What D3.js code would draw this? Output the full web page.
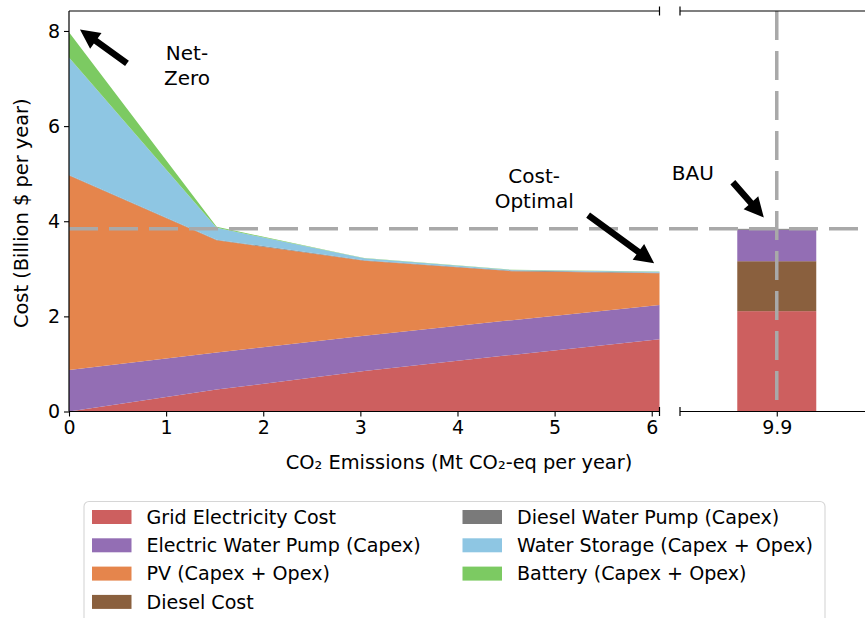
<!DOCTYPE html>
<html>
<head>
<meta charset="utf-8">
<script src="https://cdn.jsdelivr.net/npm/d3@7/dist/d3.min.js"></script>
<style>
  html, body { margin: 0; padding: 0; background: #fff; }
  svg { display: block; font-family: "DejaVu Sans", sans-serif; }
</style>
</head>
<body>
<svg id="chart" width="865" height="618"></svg>
<script>
// ---- Data ----
const emissions    = [0, 1.52, 3.04, 4.56, 6.08];          // Mt CO2-eq per year
const gridCost     = [0, 0.46, 0.85, 1.19, 1.52];
const elecPump     = [0.875, 0.78, 0.74, 0.73, 0.72];
const pvCost       = [4.085, 2.36, 1.58, 1.03, 0.665];
const dieselCost   = [0, 0, 0, 0, 0];
const dieselPump   = [0.012, 0.012, 0.012, 0.012, 0.012];
const waterStorage = [2.47, 0.25, 0.04, 0.015, 0.02];
const battery      = [0.53, 0.02, 0.003, 0.003, 0.005];

// Business-as-usual scenario (single bar)
const bauEmission  = 9.9;
const bauKeys      = ["grid", "diesel", "elecPump", "dieselPump"];
const bauValues    = [2.11, 1.05, 0.66, 0.02];

const xTicksLeft   = [0, 1, 2, 3, 4, 5, 6];
const yTicks       = [0, 2, 4, 6, 8];
const xTickRight   = ["9.9"];

const seriesKeys   = ["grid", "elecPump", "pv", "diesel", "dieselPump", "storage", "battery"];
const seriesNames  = ["Grid Electricity Cost", "Electric Water Pump (Capex)", "PV (Capex + Opex)",
                      "Diesel Cost", "Diesel Water Pump (Capex)", "Water Storage (Capex + Opex)",
                      "Battery (Capex + Opex)"];
const seriesColors = ["#cd5f5f", "#936eb4", "#e5854c", "#8a603e", "#7a7a7a", "#8ec6e3", "#7cca62"];

// ---- Setup ----
const svg = d3.select("#chart");
const color = d3.scaleOrdinal().domain(seriesKeys).range(seriesColors);

const plotTop = 11, plotBottom = 411.5;
const xL = d3.scaleLinear().domain([0, 6.08]).range([69, 659.5]);
const xR = d3.scaleLinear().domain([8.92, 10.9]).range([680, 875.5]);
const y  = d3.scaleLinear().domain([0, 8.42]).range([plotBottom, plotTop]);

// ---- Stacked areas ----
const rows = emissions.map((e, i) => ({
  x: e, grid: gridCost[i], elecPump: elecPump[i], pv: pvCost[i], diesel: dieselCost[i],
  dieselPump: dieselPump[i], storage: waterStorage[i], battery: battery[i]
}));
const stacked = d3.stack().keys(seriesKeys)(rows);
const area = d3.area()
  .x(d => xL(d.data.x))
  .y0(d => y(d[0]))
  .y1(d => y(d[1]));

svg.append("g").selectAll("path")
  .data(stacked)
  .join("path")
  .attr("d", area)
  .attr("fill", d => color(d.key));

// ---- BAU stacked bar ----
let acc = 0;
const bauSegs = bauKeys.map((k, i) => { const s = { key: k, y0: acc, y1: acc + bauValues[i] }; acc += bauValues[i]; return s; });
const bauTotal = acc;
const barWidth = 0.8;
svg.append("g").selectAll("rect")
  .data(bauSegs)
  .join("rect")
  .attr("x", xR(bauEmission - barWidth / 2))
  .attr("width", xR(bauEmission + barWidth / 2) - xR(bauEmission - barWidth / 2))
  .attr("y", d => y(d.y1))
  .attr("height", d => y(d.y0) - y(d.y1))
  .attr("fill", d => color(d.key));

// ---- Reference lines ----
svg.append("line")
  .attr("x1", xL(0)).attr("x2", 865)
  .attr("y1", y(bauTotal)).attr("y2", y(bauTotal))
  .attr("stroke", "#a9a9a9").attr("stroke-width", 3.5).attr("stroke-dasharray", "29,11");
svg.append("line")
  .attr("x1", xR(bauEmission)).attr("x2", xR(bauEmission))
  .attr("y1", plotTop).attr("y2", plotBottom - 9)
  .attr("stroke", "#a9a9a9").attr("stroke-width", 3.5).attr("stroke-dasharray", "29,11");

// ---- Spines (broken axis) ----
const spine = svg.append("g").attr("stroke", "#000").attr("stroke-width", 1.2).attr("fill", "none");
spine.append("line").attr("x1", xL(0)).attr("x2", xL(0)).attr("y1", plotTop).attr("y2", plotBottom);
[plotTop, plotBottom].forEach(yy => {
  spine.append("line").attr("x1", xL(0)).attr("x2", xL.range()[1]).attr("y1", yy).attr("y2", yy);
  spine.append("line").attr("x1", xR.range()[0]).attr("x2", 865).attr("y1", yy).attr("y2", yy);
  // break markers
  [xL.range()[1], xR.range()[0]].forEach(xx => {
    spine.append("line").attr("x1", xx).attr("x2", xx).attr("y1", yy - 4.5).attr("y2", yy + 4.5);
  });
});

// ---- Axes ----
function styleAxis(g) {
  g.select(".domain").remove();
  g.selectAll(".tick line").attr("stroke", "#000").attr("stroke-width", 1.1);
  g.selectAll(".tick text").attr("fill", "#000").style("font-size", "19px").style("font-family", "DejaVu Sans");
}
svg.append("g").attr("transform", `translate(0,${plotBottom})`)
  .call(d3.axisBottom(xL).tickValues(xTicksLeft).tickFormat(d3.format("d")).tickSize(5).tickPadding(4))
  .call(styleAxis);
svg.append("g").attr("transform", `translate(0,${plotBottom})`)
  .call(d3.axisBottom(xR).tickValues([bauEmission]).tickFormat((d, i) => xTickRight[i]).tickSize(5).tickPadding(4))
  .call(styleAxis);
svg.append("g").attr("transform", `translate(${xL(0)},0)`)
  .call(d3.axisLeft(y).tickValues(yTicks).tickFormat(d3.format("d")).tickSize(5).tickPadding(4))
  .call(styleAxis);

// ---- Axis labels ----
svg.append("text")
  .attr("x", 459).attr("y", 469)
  .attr("text-anchor", "middle").style("font-size", "19.4px")
  .text("CO₂ Emissions (Mt CO₂-eq per year)");
svg.append("text")
  .attr("transform", `translate(28,${(plotTop + plotBottom) / 2 + 2}) rotate(-90)`)
  .attr("text-anchor", "middle").style("font-size", "19.4px")
  .text("Cost (Billion $ per year)");

// ---- Annotations ----
function arrow(tail, tip) {
  const w = 6.5, hw = 19.5, hl = 19.5;
  const dx = tip[0] - tail[0], dy = tip[1] - tail[1];
  const L = Math.hypot(dx, dy), ux = dx / L, uy = dy / L;
  const px = -uy, py = ux;
  const bx = tip[0] - ux * hl, by = tip[1] - uy * hl;
  const pts = [
    [tail[0] + px * w / 2, tail[1] + py * w / 2],
    [bx + px * w / 2, by + py * w / 2],
    [bx + px * hw / 2, by + py * hw / 2],
    tip,
    [bx - px * hw / 2, by - py * hw / 2],
    [bx - px * w / 2, by - py * w / 2],
    [tail[0] - px * w / 2, tail[1] - py * w / 2]
  ];
  svg.append("path").attr("d", d3.line()(pts) + "Z").attr("fill", "#000");
}
function label(lines, cx, baseline) {
  const t = svg.append("text").attr("text-anchor", "middle").style("font-size", "20px");
  lines.forEach((s, i) => t.append("tspan").attr("x", cx).attr("y", baseline + i * 25).text(s));
}

const annotations = [
  { text: ["Net-", "Zero"],     sx: xL, tx: 1.215, ty: 7.39, tail: [0.597, 7.32], tip: [0.113, 8.03] },
  { text: ["Cost-", "Optimal"], sx: xL, tx: 4.79,  ty: 4.80, tail: [5.345, 4.13], tip: [6.025, 3.116] },
  { text: ["BAU"],              sx: xR, tx: 9.05,  ty: 4.87, tail: [9.455, 4.82], tip: [9.769, 4.08] }
];
annotations.forEach(a => {
  label(a.text, a.sx(a.tx), y(a.ty));
  arrow([a.sx(a.tail[0]), y(a.tail[1])], [a.sx(a.tip[0]), y(a.tip[1])]);
});

// ---- Legend ----
const legend = svg.append("g");
legend.append("rect")
  .attr("x", 84).attr("y", 501.5).attr("width", 741).attr("height", 130)
  .attr("rx", 5).attr("fill", "#fff").attr("stroke", "#d6d6d6").attr("stroke-width", 1.1);
const colX = [92, 462.5];
const rowY = [517, 545.3, 573.6, 601.9];
seriesKeys.forEach((k, i) => {
  const col = i < 4 ? 0 : 1, row = i < 4 ? i : i - 4;
  const g = legend.append("g").attr("transform", `translate(${colX[col]},${rowY[row]})`);
  g.append("rect").attr("x", 0).attr("y", -7).attr("width", 39.5).attr("height", 14).attr("fill", color(k));
  g.append("text").attr("x", 54.5).attr("y", 0).attr("dy", "0.36em")
    .style("font-size", "19.1px").text(seriesNames[i]);
});
</script>
</body>
</html>
